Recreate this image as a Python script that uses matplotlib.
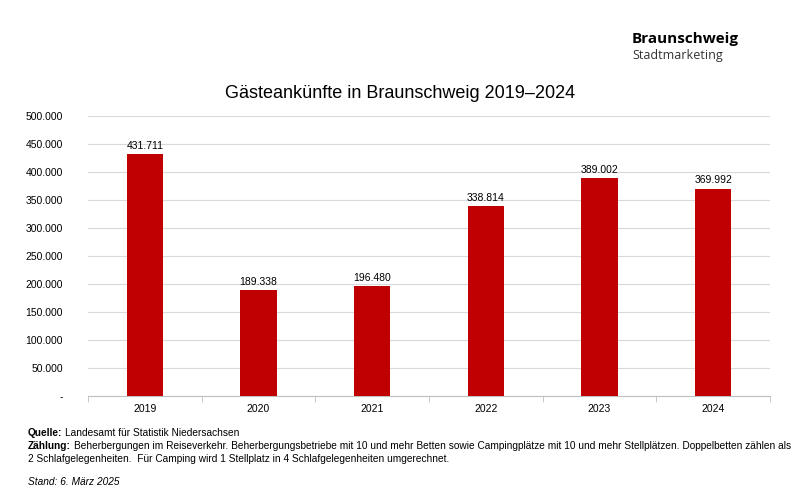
import matplotlib
matplotlib.use("Agg")
import matplotlib.pyplot as plt
from matplotlib import font_manager

years = ["2019", "2020", "2021", "2022", "2023", "2024"]
values = [431711, 189338, 196480, 338814, 389002, 369992]
yticks = [0, 50000, 100000, 150000, 200000, 250000, 300000, 350000, 400000, 450000, 500000]

def fmt(v):
    return "-" if v == 0 else f"{v:,}".replace(",", ".")

names = {f.name for f in font_manager.fontManager.ttflist}
narrow = "Liberation Sans Narrow" if "Liberation Sans Narrow" in names else "Liberation Sans"

plt.rcParams["font.family"] = "Liberation Sans"
fig = plt.figure(figsize=(8, 5), dpi=100)
ax = fig.add_axes([0.11, 0.208, 0.8525, 0.56])
x = range(len(years))
ax.bar(x, values, width=0.32, color="#C00000", zorder=3)
for i, v in zip(x, values):
    ax.text(i, v + 6000, fmt(v), ha="center", va="bottom", fontsize=7.5)
ax.set_xlim(-0.5, len(years) - 0.5)
ax.set_ylim(0, 500000)
ax.set_yticks(yticks)
ax.set_yticklabels([fmt(v) for v in yticks], fontsize=7.5)
ax.set_xticks(list(x))
ax.set_xticklabels(years, fontsize=7.5)
ax.grid(axis="y", color="#d9d9d9", linewidth=0.8, zorder=0)
for s in ["top", "right", "left"]:
    ax.spines[s].set_visible(False)
ax.spines["bottom"].set_color("#bfbfbf")
ax.tick_params(axis="y", length=0, pad=18)
ax.set_xticks([i + 0.5 for i in range(-1, len(years))], minor=True)
ax.tick_params(axis="x", which="minor", length=4, color="#bfbfbf")
ax.tick_params(axis="x", which="major", length=0, pad=6)

fig.text(0.5, 0.805, "Gästeankünfte in Braunschweig 2019–2024", ha="center", fontsize=13)
fig.text(0.79, 0.915, "Braunschweig", fontsize=11, fontweight="bold", family="Open Sans")
fig.text(0.79, 0.882, "Stadtmarketing", fontsize=9, family="Open Sans", color="#333333")

fs = 7.3
def labeled(y, bold, rest):
    t = fig.text(0.035, y, bold, fontsize=fs, fontweight="bold", family=narrow)
    fig.canvas.draw()
    bb = t.get_window_extent()
    fig.text((bb.x1 + 3) / 800, y, rest, fontsize=fs, family=narrow)

labeled(0.128, "Quelle:", "Landesamt für Statistik Niedersachsen")
labeled(0.102, "Zählung:", "Beherbergungen im Reiseverkehr. Beherbergungsbetriebe mit 10 und mehr Betten sowie Campingplätze mit 10 und mehr Stellplätzen. Doppelbetten zählen als")
fig.text(0.035, 0.076, "2 Schlafgelegenheiten.  Für Camping wird 1 Stellplatz in 4 Schlafgelegenheiten umgerechnet.", fontsize=fs, family=narrow)
fig.text(0.035, 0.030, "Stand: 6. März 2025", fontsize=fs, style="italic", family=narrow)
fig.savefig("out.png", dpi=100)
